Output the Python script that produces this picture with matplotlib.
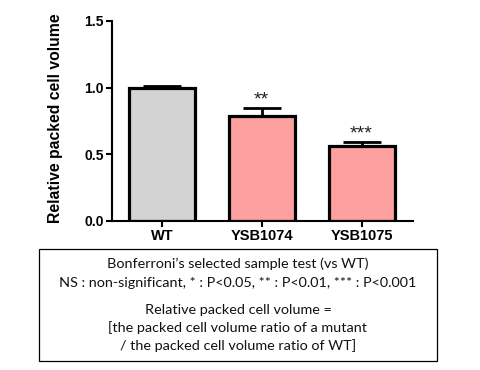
import matplotlib
matplotlib.use("Agg")
import matplotlib.pyplot as plt
from matplotlib.patches import Rectangle

categories = ["WT", "YSB1074", "YSB1075"]
values = [1.0, 0.79, 0.565]
errors = [0.012, 0.055, 0.025]
signif = ["", "**", "***"]
colors = ["#D3D3D3", "#FFA0A0", "#FFA0A0"]
yticks = [0.0, 0.5, 1.0, 1.5]
box_lines_1 = ["Bonferroni\u2019s selected sample test (vs WT)",
               "NS : non-significant, * : P<0.05, ** : P<0.01, *** : P<0.001"]
box_lines_2 = ["Relative packed cell volume =",
               "[the packed cell volume ratio of a mutant",
               "/ the packed cell volume ratio of WT]"]

W, H = 480, 370
fig = plt.figure(figsize=(W / 100, H / 100), dpi=100)
ax = fig.add_axes([112 / W, 1 - 221 / H, (413 - 112) / W, 200 / H])

x = list(range(len(categories)))
ax.bar(x, values, width=0.66, color=colors, edgecolor="black", linewidth=2.3, zorder=2)
ax.errorbar(x, values, yerr=[[0] * len(errors), errors], fmt="none", ecolor="black",
            elinewidth=2.0, capsize=14, capthick=2.0, zorder=1)
for xi, v, e, s in zip(x, values, errors, signif):
    if s:
        ax.text(xi, v + e + 0.06, s, ha="center", va="center", fontsize=14,
                family="Liberation Sans", color="#222222")

ax.set_xlim(-0.5, 2.515)
ax.set_ylim(0, 1.5)
ax.set_yticks(yticks)
ax.set_yticklabels([f"{t:.1f}" for t in yticks], fontsize=10, fontweight="bold", family="Liberation Sans")
ax.set_xticks(x)
ax.set_xticklabels(categories, fontsize=10.5, fontweight="bold", family="Liberation Sans")
for s in ["top", "right"]:
    ax.spines[s].set_visible(False)
for s in ["left", "bottom"]:
    ax.spines[s].set_linewidth(1.5)
ax.tick_params(axis="both", width=1.5, length=4, pad=2)
ax.set_ylabel("Relative packed cell volume", fontsize=11.3, fontweight="bold", family="Liberation Sans")
ax.yaxis.set_label_coords(-0.163, 0.515)

fig.patches.append(Rectangle((39 / W, 1 - 361 / H), (437 - 39) / W, (361 - 249) / H,
                             transform=fig.transFigure, fill=False, edgecolor="black", linewidth=0.9))
ys1 = [264, 283]
ys2 = [310, 328, 346]
for t, yy in zip(box_lines_1 + box_lines_2, ys1 + ys2):
    fig.text(238 / W, 1 - yy / H, t, ha="center", va="center", fontsize=10.4, family="Lato", color="#111111")

fig.savefig("out.png", dpi=100)
